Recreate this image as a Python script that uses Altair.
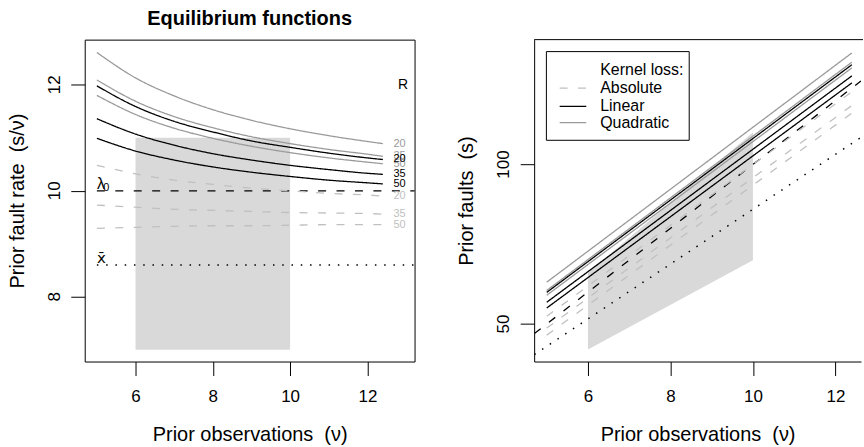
import altair as alt
import pandas as pd

# ---------------- data ----------------
losses = ["Absolute", "Linear", "Quadratic"]
R_values = [20, 35, 50]

# Left panel: prior fault rate (s/nu) against prior observations (nu)
nu_grid = [5, 6, 7, 8, 9, 10, 11, 12, 12.4]
rate_quadratic_20 = [12.61, 12.13, 11.79, 11.53, 11.33, 11.17, 11.04, 10.93, 10.89]
rate_quadratic_35 = [12.09, 11.69, 11.40, 11.19, 11.02, 10.89, 10.78, 10.69, 10.65]
rate_quadratic_50 = [11.80, 11.44, 11.18, 10.99, 10.84, 10.72, 10.62, 10.54, 10.51]
rate_linear_20 = [11.98, 11.59, 11.31, 11.11, 10.94, 10.82, 10.71, 10.62, 10.59]
rate_linear_35 = [11.36, 11.07, 10.86, 10.70, 10.58, 10.48, 10.40, 10.33, 10.31]
rate_linear_50 = [10.99, 10.75, 10.58, 10.45, 10.35, 10.27, 10.20, 10.15, 10.13]
rate_absolute_20 = [10.48, 10.32, 10.20, 10.12, 10.05, 10.00, 9.95, 9.92, 9.90]
rate_absolute_35 = [9.73, 9.69, 9.65, 9.63, 9.61, 9.59, 9.58, 9.57, 9.56]
rate_absolute_50 = [9.29, 9.31, 9.33, 9.34, 9.34, 9.35, 9.36, 9.36, 9.36]

lambda0 = 10.0
xbar = 8.6
shade_nu = [6, 10]
shade_rate = [7, 11]

# Right panel: prior faults (s) against prior observations (nu)
nu_ends = [5, 12.4]
faults_quadratic_20 = [63.1, 135.0]
faults_quadratic_35 = [60.5, 132.1]
faults_quadratic_50 = [59.0, 130.3]
faults_linear_20 = [59.9, 131.3]
faults_linear_35 = [56.8, 127.8]
faults_linear_50 = [55.0, 125.6]
faults_absolute_20 = [52.4, 122.8]
faults_absolute_35 = [48.7, 118.5]
faults_absolute_50 = [46.5, 116.1]

ref_nu = [4.7, 12.62]
faults_lambda0 = [47.0, 126.2]
faults_xbar = [40.4, 108.5]
shade_faults_low = [42, 70]
shade_faults_high = [66, 110]

# tick labels
x_ticks = [6, 8, 10, 12]
y_ticks_left = [8, 10, 12]
y_ticks_right = [50, 100]

# ---------------- tables ----------------
left_series = {
    ("Quadratic", 20): rate_quadratic_20, ("Quadratic", 35): rate_quadratic_35,
    ("Quadratic", 50): rate_quadratic_50, ("Linear", 20): rate_linear_20,
    ("Linear", 35): rate_linear_35, ("Linear", 50): rate_linear_50,
    ("Absolute", 20): rate_absolute_20, ("Absolute", 35): rate_absolute_35,
    ("Absolute", 50): rate_absolute_50,
}
right_series = {
    ("Quadratic", 20): faults_quadratic_20, ("Quadratic", 35): faults_quadratic_35,
    ("Quadratic", 50): faults_quadratic_50, ("Linear", 20): faults_linear_20,
    ("Linear", 35): faults_linear_35, ("Linear", 50): faults_linear_50,
    ("Absolute", 20): faults_absolute_20, ("Absolute", 35): faults_absolute_35,
    ("Absolute", 50): faults_absolute_50,
}

left_rows, label_rows = [], []
for (loss, R), vals in left_series.items():
    for nu, v in zip(nu_grid, vals):
        left_rows.append({"nu": nu, "rate": v, "loss": loss, "R": R})
    label_rows.append({"rate": vals[-1], "loss": loss, "label": str(R)})
left_df = pd.DataFrame(left_rows)
label_df = pd.DataFrame(label_rows)

right_rows = []
for (loss, R), vals in right_series.items():
    for nu, v in zip(nu_ends, vals):
        right_rows.append({"nu": nu, "faults": v, "loss": loss, "R": R})
right_df = pd.DataFrame(right_rows)

shade_left_df = pd.DataFrame({"nu": [shade_nu[0]], "nu2": [shade_nu[1]],
                              "rate": [shade_rate[0]], "rate2": [shade_rate[1]]})
shade_right_df = pd.DataFrame({"nu": shade_nu, "faults": shade_faults_low,
                               "faults2": shade_faults_high})
lam_right_df = pd.DataFrame({"nu": ref_nu, "faults": faults_lambda0})
xbar_right_df = pd.DataFrame({"nu": ref_nu, "faults": faults_xbar})
ytick_left_df = pd.DataFrame({"rate": y_ticks_left, "lab": [str(v) for v in y_ticks_left]})
ytick_right_df = pd.DataFrame({"faults": y_ticks_right, "lab": [str(v) for v in y_ticks_right]})

# ---------------- styling ----------------
FONT = "Liberation Sans"
LW, LH = 331, 323
RW, RH = 328, 323
GRAY = "#9a9a9a"
LIGHT = "#c0c0c0"
DASH = [8, 10.5]
DOT = [1.5, 7.8]

color_scale = alt.Scale(domain=losses, range=[LIGHT, "#000000", GRAY])
dash_scale = alt.Scale(domain=losses, range=[DASH, [1, 0], [1, 0]])

xl = alt.Scale(domain=[4.685, 13.22], nice=False, zero=False)
yl = alt.Scale(domain=[6.778, 12.852], nice=False, zero=False)
xr = alt.Scale(domain=[4.695, 4.695 + RW / 41.38], nice=False, zero=False)
yr = alt.Scale(domain=[38.22, 139.16], nice=False, zero=False)

XT = "Prior observations \u00a0(\u03bd)"
YTL = "Prior fault rate \u00a0(s/\u03bd)"
YTR = "Prior faults \u00a0(s)"


def x_axis(w, domain):
    return alt.Axis(values=x_ticks, format="d", domain=domain,
                    labelPadding=13, labelFlush=False, labelOverlap=False,
                    titleX=w / 2, titleY=73, titleAlign="center",
                    titleBaseline="middle")


def y_axis(vals, domain, tx):
    # tick labels are drawn as rotated text marks below
    return alt.Axis(values=vals, domain=domain, labels=False,
                    titleX=tx, titleY=LH / 2, titleAngle=270,
                    titleAlign="center", titleBaseline="middle")


AX_L = x_axis(LW, False)
AY_L = y_axis(y_ticks_left, False, -67)
AX_R = x_axis(RW, True)
AY_R = y_axis(y_ticks_right, True, -68.3)


def XL(field="nu:Q"):
    return alt.X(field, scale=xl, title=XT, axis=AX_L)


def YL(field="rate:Q"):
    return alt.Y(field, scale=yl, title=YTL, axis=AY_L)


def XR(field="nu:Q"):
    return alt.X(field, scale=xr, title=XT, axis=AX_R)


def YR(field="faults:Q"):
    return alt.Y(field, scale=yr, title=YTR, axis=AY_R)


# ---------------- left panel ----------------
l_shade = alt.Chart(shade_left_df).mark_rect(color="#d9d9d9").encode(
    x=XL(), x2="nu2:Q", y=YL(), y2="rate2:Q")

l_lam = alt.Chart(pd.DataFrame({"rate": [lambda0]})).mark_rule(
    color="black", strokeDash=DASH, strokeWidth=1.3).encode(
    y=YL(), x=alt.datum(5), x2=alt.value(LW))

l_xbar = alt.Chart(pd.DataFrame({"rate": [xbar]})).mark_rule(
    color="black", strokeDash=DOT, strokeWidth=1.5).encode(
    y=YL(), x=alt.datum(5), x2=alt.value(LW))

l_lines = alt.Chart(left_df).mark_line(strokeWidth=1.3, interpolate="monotone").encode(
    x=XL(), y=YL(),
    color=alt.Color("loss:N", scale=color_scale, legend=None),
    strokeDash=alt.StrokeDash("loss:N", scale=dash_scale, legend=None),
    detail="R:N")

l_labels = alt.Chart(label_df).mark_text(
    font=FONT, fontSize=11, align="center", baseline="middle").encode(
    x=alt.datum(12.83), y=YL(),
    text="label:N", color=alt.Color("loss:N", scale=color_scale, legend=None))

l_R = alt.Chart(pd.DataFrame({"t": ["R"]})).mark_text(
    font=FONT, fontSize=14, align="center", baseline="middle").encode(
    x=alt.datum(12.92), y=alt.datum(12.0), text="t:N")

l_lam_txt = alt.Chart(pd.DataFrame({"t": ["\u03bb"]})).mark_text(
    font=FONT, fontSize=16, align="left", baseline="alphabetic", dy=-2).encode(
    x=alt.datum(5), y=alt.datum(lambda0), text="t:N")
l_lam_sub = alt.Chart(pd.DataFrame({"t": ["0"]})).mark_text(
    font=FONT, fontSize=11, align="left", baseline="alphabetic", dx=6.5, dy=0).encode(
    x=alt.datum(5), y=alt.datum(lambda0), text="t:N")
l_xbar_txt = alt.Chart(pd.DataFrame({"t": ["x\u0304"]})).mark_text(
    font="DejaVu Sans", fontSize=15, align="left", baseline="alphabetic", dy=-1.5).encode(
    x=alt.datum(5), y=alt.datum(xbar), text="t:N")

l_yticks = alt.Chart(ytick_left_df).mark_text(
    font=FONT, fontSize=17, angle=270, align="center", baseline="middle").encode(
    x=alt.value(-29.7), y=YL(), text="lab:N")

l_title = alt.Chart(pd.DataFrame({"t": ["Equilibrium functions"]})).mark_text(
    font=FONT, fontSize=20, fontWeight="bold", align="center",
    baseline="alphabetic").encode(
    x=alt.value(LW / 2), y=alt.value(-15), text="t:N")

left = alt.layer(l_shade, l_lam, l_xbar, l_lines, l_labels, l_R,
                 l_lam_txt, l_lam_sub, l_xbar_txt, l_yticks, l_title).properties(
    width=LW, height=LH,
    view=alt.ViewBackground(stroke="black", strokeWidth=1))

# ---------------- right panel ----------------
r_shade = alt.Chart(shade_right_df).mark_area(color="#d9d9d9").encode(
    x=XR(), y=YR(), y2="faults2:Q")

r_lam = alt.Chart(lam_right_df).mark_line(
    color="black", strokeDash=DASH, strokeWidth=1.3, clip=True).encode(
    x=XR(), y=YR())
r_xbar = alt.Chart(xbar_right_df).mark_line(
    color="black", strokeDash=DOT, strokeWidth=1.5, clip=True).encode(
    x=XR(), y=YR())

r_lines = alt.Chart(right_df).mark_line(strokeWidth=1.3, clip=True).encode(
    x=XR(), y=YR(),
    color=alt.Color("loss:N", scale=color_scale, legend=None),
    strokeDash=alt.StrokeDash("loss:N", scale=dash_scale, legend=None),
    detail="R:N")

r_top = alt.Chart(pd.DataFrame({"t": [0]})).mark_rule(
    color="black", strokeWidth=1).encode(
    x=alt.value(0), x2=alt.value(RW + 2), y=alt.value(0))

r_yticks = alt.Chart(ytick_right_df).mark_text(
    font=FONT, fontSize=17, angle=270, align="center", baseline="middle").encode(
    x=alt.value(-30.3), y=YR(), text="lab:N")

# legend (hand-drawn, as in the reference)
legend_layers = [
    alt.Chart(pd.DataFrame({"t": [0]})).mark_rect(
        fill="white", stroke="black", strokeWidth=1).encode(
        x=alt.value(12.3), x2=alt.value(155.6), y=alt.value(12), y2=alt.value(101)),
]
legend_entries = [("Kernel loss:", None, 30.3),
                  ("Absolute", "Absolute", 48.7),
                  ("Linear", "Linear", 67.0),
                  ("Quadratic", "Quadratic", 83.3)]
style = {"Absolute": (LIGHT, DASH), "Linear": ("#000000", [1, 0]),
         "Quadratic": (GRAY, [1, 0])}
for text, key, yy in legend_entries:
    legend_layers.append(
        alt.Chart(pd.DataFrame({"t": [text]})).mark_text(
            font=FONT, fontSize=16, align="left", baseline="middle",
            color="black").encode(x=alt.value(66.3), y=alt.value(yy), text="t:N"))
    if key is not None:
        c, d = style[key]
        legend_layers.append(
            alt.Chart(pd.DataFrame({"t": [key]})).mark_rule(
                color=c, strokeDash=d, strokeWidth=1.3).encode(
                x=alt.value(25.6), x2=alt.value(52.3), y=alt.value(yy)))

right = alt.layer(r_shade, r_lam, r_xbar, r_lines, r_top, r_yticks,
                  *legend_layers).properties(width=RW, height=RH)

chart = alt.hconcat(left, right, spacing=120, bounds="flush").properties(
    padding={"left": 7, "top": 7, "right": 0, "bottom": 0}
).configure_view(strokeWidth=0).configure_axis(
    grid=False, tickColor="black", tickSize=14, tickWidth=1,
    domainColor="black", domainWidth=1,
    labelFont=FONT, labelFontSize=17, labelColor="black",
    titleFont=FONT, titleFontSize=20, titleFontWeight="normal", titleColor="black"
).configure_text(font=FONT)

chart.save("out.html", embed_options={"renderer": "svg", "actions": False})
